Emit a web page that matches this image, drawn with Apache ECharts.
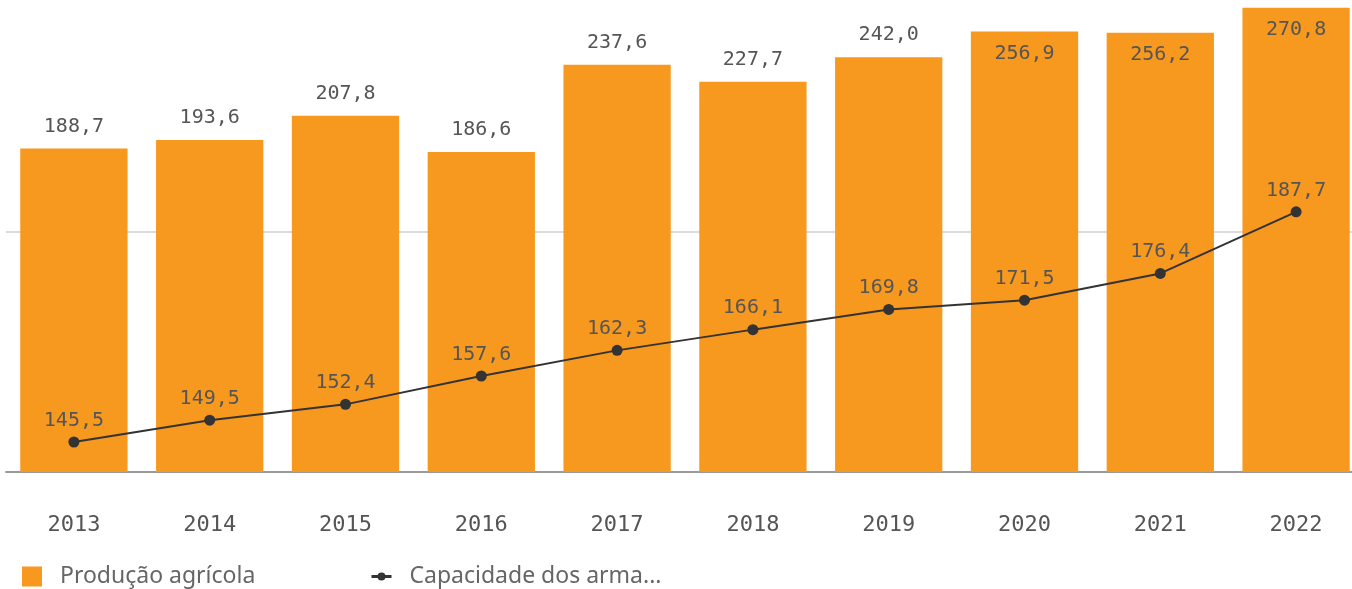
<!DOCTYPE html>
<html>
<head>
<meta charset="utf-8">
<script src="https://cdn.jsdelivr.net/npm/echarts@6/dist/echarts.min.js"></script>
<style>
  html, body { margin: 0; padding: 0; background: #fff; overflow: hidden; width: 1352px; height: 589px; }
  #chart { position: absolute; left: 0; top: -8px; width: 1364px; height: 597px; }
</style>
</head>
<body>
<div id="chart"></div>
<script>
// Anos
const years = ['2013', '2014', '2015', '2016', '2017', '2018', '2019', '2020', '2021', '2022'];
// Produção agrícola
const producao = [188.7, 193.6, 207.8, 186.6, 237.6, 227.7, 242.0, 256.9, 256.2, 270.8];
// Capacidade dos armazéns
const capacidade = [145.5, 149.5, 152.4, 157.6, 162.3, 166.1, 169.8, 171.5, 176.4, 187.7];

const nomeBarras = 'Produção agrícola';
const nomeLinha = 'Capacidade dos armazéns';

const fmt = v => v.toFixed(1).replace('.', ',');
const numFont = '"DejaVu Sans Mono", "Liberation Mono", monospace';
const textFont = '"Noto Sans", "Open Sans", sans-serif';
const legendText = { fontFamily: textFont, fontSize: 23, color: '#666', padding: [0, 0, 0, 13] };

// Tall bars carry their value label inside the top of the bar
const barData = producao.map(v => ({
  value: v,
  label: v > 250 ? { position: 'insideTop', distance: 12 } : { position: 'top', distance: 12 }
}));

const chart = echarts.init(document.getElementById('chart'), null, { renderer: 'canvas' });

chart.setOption({
  animation: false,
  backgroundColor: '#ffffff',
  grid: { left: 6, right: 0, top: 0, bottom: 117, containLabel: false },
  legend: [
    {
      left: 22,
      top: 573,
      padding: 0,
      itemWidth: 20,
      itemHeight: 20,
      textStyle: legendText,
      data: [{ name: nomeBarras, icon: 'rect' }]
    },
    {
      left: 370,
      top: 573,
      padding: 0,
      itemWidth: 20,
      itemHeight: 10,
      lineStyle: { width: 3 },
      formatter: name => name.length > 19 ? name.slice(0, 19) + '...' : name,
      textStyle: legendText,
      data: [{ name: nomeLinha }]
    }
  ],
  xAxis: {
    type: 'category',
    data: years,
    axisTick: { show: false },
    axisLine: { lineStyle: { color: '#9a9a9a', width: 2 } },
    axisLabel: { margin: 42, fontFamily: numFont, fontSize: 22, color: '#555' }
  },
  yAxis: [
    {
      type: 'value',
      min: 0, max: 280, interval: 140,
      axisLine: { show: false },
      axisTick: { show: false },
      axisLabel: { show: false },
      splitLine: { lineStyle: { color: '#cfcfcf', width: 1.5 } }
    },
    {
      type: 'value',
      min: 140, max: 228, interval: 44,
      show: false,
      splitLine: { show: false }
    }
  ],
  series: [
    {
      name: nomeBarras,
      type: 'bar',
      data: barData,
      barCategoryGap: '21%',
      itemStyle: { color: '#F7981F' },
      label: {
        show: true,
        formatter: p => fmt(p.value),
        fontFamily: numFont, fontSize: 20, color: '#555'
      }
    },
    {
      name: nomeLinha,
      type: 'line',
      yAxisIndex: 1,
      data: capacidade,
      symbol: 'circle',
      symbolSize: 11,
      z: 5,
      lineStyle: { color: '#333', width: 2 },
      itemStyle: { color: '#333' },
      label: {
        show: true,
        position: 'top',
        distance: 6,
        formatter: p => fmt(p.value),
        fontFamily: numFont, fontSize: 20, color: '#555'
      }
    }
  ]
});
</script>
</body>
</html>
